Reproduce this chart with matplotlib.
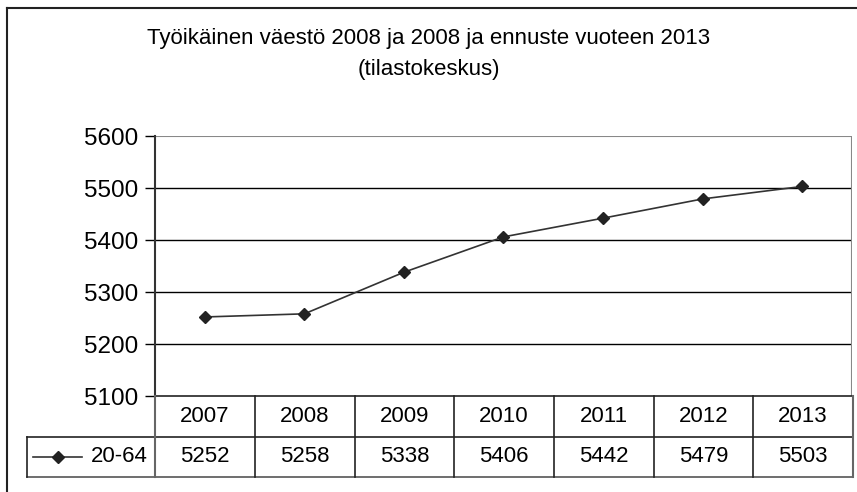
import matplotlib
matplotlib.use("Agg")
import matplotlib.pyplot as plt
from matplotlib.lines import Line2D

plt.rcParams['font.family'] = ['Liberation Sans', 'DejaVu Sans']

years = ["2007", "2008", "2009", "2010", "2011", "2012", "2013"]
values = [5252, 5258, 5338, 5406, 5442, 5479, 5503]
series_name = "20-64"
yticks = [5100, 5200, 5300, 5400, 5500, 5600]
title = "Työikäinen väestö 2008 ja 2008 ja ennuste vuoteen 2013\n(tilastokeskus)"

W, H = 857, 492
fig = plt.figure(figsize=(W / 100, H / 100), dpi=100)

def px_rect(x0, y0, x1, y1):
    return [x0 / W, 1 - y1 / H, (x1 - x0) / W, (y1 - y0) / H]

# outer chart border (only top and left visible; image cropped)
fig.add_artist(Line2D([7.5 / W, 1.0], [1 - 7.5 / H, 1 - 7.5 / H],
                      transform=fig.transFigure, color='#222222', lw=1.5))
fig.add_artist(Line2D([7.5 / W, 7.5 / W], [1 - 7.5 / H, 0.0],
                      transform=fig.transFigure, color='#222222', lw=1.5))

fig.text(429 / W, 1 - 54 / H, title, ha='center', va='center', fontsize=16,
         linespacing=1.6)

n = len(years)
ax = fig.add_axes(px_rect(155, 136, 852, 396))
ax.set_xlim(-0.5, n - 0.5)
ax.set_ylim(5100, 5600)
ax.set_yticks(yticks)
ax.set_yticklabels([str(t) for t in yticks], fontsize=17.5)
ax.tick_params(axis='y', length=7, width=1, color='black', pad=5)
ax.set_xticks([])
for s in ['top', 'right', 'bottom']:
    ax.spines[s].set_visible(False)
ax.spines['left'].set_color('#333333')
ax.spines['left'].set_linewidth(1.5)
for t in yticks[1:-1]:
    ax.axhline(t, color='black', lw=1)
ax.axhline(yticks[-1], color='#888888', lw=1.5)
ax.axvline(n - 0.5, color='#888888', lw=1.5)
ax.plot(range(n), values, color='#333333', lw=1.2, marker='D', ms=6,
        mfc='#222222', mec='#222222', clip_on=False)

# data table
colw = (852 - 155) / n
left_cols = (155 - 27) / colw
tax = fig.add_axes(px_rect(27, 396, 853, 477))
tax.set_xlim(-0.5 - left_cols, n - 0.5)
tax.set_ylim(2, 0)
tax.axis('off')
lc = '#222222'
x_left = -0.5 - left_cols
tax.plot([-0.5, n - 0.5], [0, 0], color=lc, lw=1.2, clip_on=False)
tax.plot([x_left, n - 0.5], [1, 1], color=lc, lw=1.2, clip_on=False)
tax.plot([x_left, n - 0.5], [2, 2], color='#555555', lw=1.2, clip_on=False)
tax.plot([x_left, x_left], [1, 2], color=lc, lw=1.2, clip_on=False)
for i in range(n + 1):
    tax.plot([i - 0.5, i - 0.5], [0, 2], color='#666666' if i in (0, n) else lc,
             lw=1.5 if i in (0, n) else 1.2, clip_on=False)
for i, (yr, v) in enumerate(zip(years, values)):
    tax.text(i, 0.5, yr, ha='center', va='center', fontsize=16)
    tax.text(i, 1.5, str(v), ha='center', va='center', fontsize=16)
# legend key
tax.add_line(Line2D([x_left + 6 / colw, x_left + 55 / colw], [1.5, 1.5],
                    color='#333333', lw=1.2))
tax.plot([x_left + 31 / colw], [1.5], marker='D', ms=6, color='#222222')
tax.text(-0.5 - 7 / colw, 1.5, series_name, ha='right', va='center', fontsize=16)

fig.savefig("out.png", dpi=100)
